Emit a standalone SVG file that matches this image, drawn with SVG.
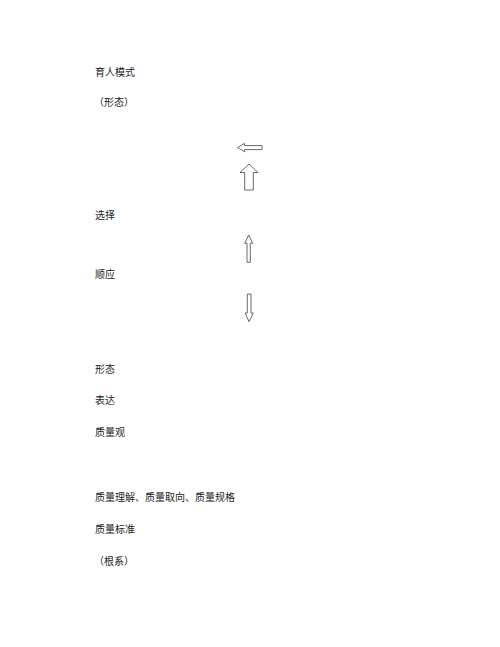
<svg xmlns="http://www.w3.org/2000/svg" width="500" height="647" viewBox="0 0 500 647">
<style>
text{font-family:"Noto Sans CJK SC","Noto Sans CJK JP",sans-serif;font-size:10px;fill:#222}
.ar{fill:#fff;stroke:#444;stroke-width:0.8}
</style>
<rect width="500" height="647" fill="#fff"/>
<g id="n1"><text x="95" y="76">育人模式</text></g>
<g id="n2"><text x="94" y="106">（形态）</text></g>
<g id="n3"><text x="95" y="219">选择</text></g>
<g id="n4"><text x="95" y="278">顺应</text></g>
<g id="n5"><text x="95" y="373">形态</text></g>
<g id="n6"><text x="95" y="404">表达</text></g>
<g id="n7"><text x="95" y="436">质量观</text></g>
<g id="n8"><text x="95" y="501">质量理解、质量取向、质量规格</text></g>
<g id="n9"><text x="95" y="533">质量标准</text></g>
<g id="n10"><text x="94" y="565">（根系）</text></g>
<g id="connectors">
<path class="ar" d="M262,145.6 L244.5,145.6 L244.5,143.4 L237.6,147.6 L244.5,151.8 L244.5,149.6 L262,149.6 Z"/>
<path class="ar" d="M249,164 L258,172.5 L253.3,172.5 L253.3,190 L244.7,190 L244.7,172.5 L240,172.5 Z"/>
<path class="ar" d="M248.7,235 L252.7,243.3 L250.3,243.3 L250.3,262.3 L247,262.3 L247,243.3 L244.7,243.3 Z"/>
<path class="ar" d="M247.3,294 L251,294 L251,313 L253.3,313 L249.1,321.7 L245,313 L247.3,313 Z"/>
</g>
</svg>
